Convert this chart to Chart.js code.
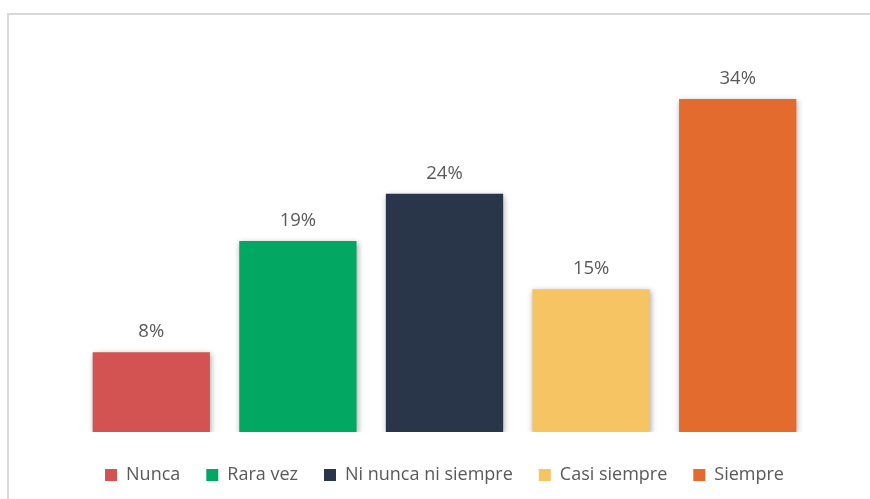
<!DOCTYPE html>
<html>
<head>
<meta charset="utf-8">
<script src="https://cdn.jsdelivr.net/npm/chart.js@4"></script>
<style>
  html, body { margin: 0; padding: 0; background: #fff; }
  #wrap { width: 870px; height: 499px; position: relative; }
</style>
</head>
<body>
<div id="wrap"><canvas id="chart" width="870" height="499"></canvas></div>
<script>
// Dati
const categories = ["Nunca", "Rara vez", "Ni nunca ni siempre", "Casi siempre", "Siempre"];
const values = [8.1, 19.4, 24.2, 14.5, 33.8];
const valueLabels = ["8%", "19%", "24%", "15%", "34%"];
const colors = ["#D25352", "#02A862", "#29364A", "#F6C462", "#E26B2D"];

// cornice grigia
const framePlugin = {
  id: "frame",
  beforeDraw(chart) {
    const ctx = chart.ctx;
    ctx.save();
    ctx.fillStyle = "#fff";
    ctx.fillRect(0, 0, chart.width, chart.height);
    ctx.strokeStyle = "#D9D9D9";
    ctx.lineWidth = 2;
    ctx.beginPath();
    ctx.moveTo(8, chart.height);
    ctx.lineTo(8, 14);
    ctx.lineTo(chart.width, 14);
    ctx.stroke();
    ctx.restore();
  },
};

// ombra delle barre
const shadowPlugin = {
  id: "barShadow",
  beforeDatasetsDraw(chart) {
    const ctx = chart.ctx;
    ctx.save();
    ctx.shadowColor = "rgba(0,0,0,0.35)";
    ctx.shadowBlur = 6;
    ctx.shadowOffsetX = 1;
    ctx.shadowOffsetY = 2;
  },
  afterDatasetsDraw(chart) {
    chart.ctx.restore();
  },
};

// etichette sopra le barre
const labelPlugin = {
  id: "barLabels",
  afterDatasetsDraw(chart) {
    const ctx = chart.ctx;
    ctx.save();
    ctx.font = "18.5px 'Open Sans'";
    ctx.fillStyle = "#595959";
    ctx.textAlign = "center";
    ctx.textBaseline = "alphabetic";
    chart.data.datasets.forEach((ds, i) => {
      const bar = chart.getDatasetMeta(i).data[0];
      ctx.fillText(valueLabels[i], bar.x, bar.y - 15);
    });
    ctx.restore();
  },
};

new Chart(document.getElementById("chart"), {
  type: "bar",
  data: {
    labels: [""],
    datasets: categories.map((name, i) => ({
      label: name,
      data: [values[i]],
      backgroundColor: colors[i],
      borderWidth: 0,
      categoryPercentage: 1,
      barPercentage: 0.8,
    })),
  },
  options: {
    responsive: false,
    animation: false,
    layout: {
      padding: { top: 38, left: 78, right: 59, bottom: 5 },
    },
    scales: {
      x: {
        display: true,
        grid: { display: false },
        ticks: { display: false },
        border: { display: false },
        afterFit(scale) {
          scale.height = 8;
        },
      },
      y: { display: false, min: 0, max: 40 },
    },
    plugins: {
      tooltip: { enabled: false },
      legend: {
        position: "bottom",
        labels: {
          boxWidth: 12,
          boxHeight: 12,
          padding: 26,
          color: "#595959",
          font: { family: "'Open Sans'", size: 18 },
        },
      },
    },
  },
  plugins: [framePlugin, shadowPlugin, labelPlugin],
});
</script>
</body>
</html>
